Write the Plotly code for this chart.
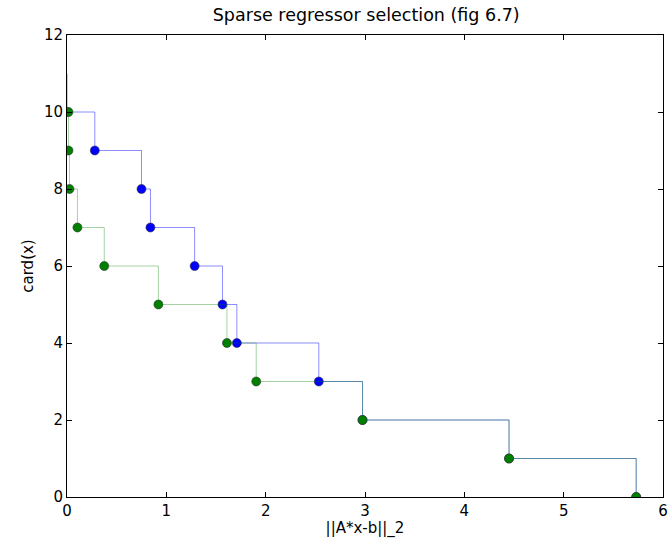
import plotly.graph_objects as go

# l1 heuristic (blue) and global optimum (green)
blue_resid = [0.0, 0.0, 0.28, 0.75, 0.84, 1.285, 1.565, 1.71, 2.535, 2.975, 4.45, 5.73]
blue_card = [11, 10, 9, 8, 7, 6, 5, 4, 3, 2, 1, 0]

green_resid = [0.015, 0.015, 0.025, 0.105, 0.375, 0.92, 1.61, 1.905, 2.975, 4.45, 5.73]
green_card = [10, 9, 8, 7, 6, 5, 4, 3, 2, 1, 0]

x_ticks = [0, 1, 2, 3, 4, 5, 6]
y_ticks = [0, 2, 4, 6, 8, 10, 12]

font = "DejaVu Sans"
edge = dict(color="#333333", width=0.6)

fig = go.Figure()
# blue: line then markers (the first point, card 11, has no marker)
fig.add_trace(go.Scatter(
    x=blue_resid, y=blue_card, mode="lines", line_shape="hv",
    line=dict(color="rgba(0,0,255,0.45)", width=1), showlegend=False,
))
fig.add_trace(go.Scatter(
    x=blue_resid[1:], y=blue_card[1:], mode="markers",
    marker=dict(color="#0000ff", size=9, line=edge), showlegend=False,
))
fig.add_trace(go.Scatter(
    x=green_resid, y=green_card, mode="lines", line_shape="hv",
    line=dict(color="rgba(0,128,0,0.35)", width=1), showlegend=False,
))
fig.add_trace(go.Scatter(
    x=green_resid, y=green_card, mode="markers",
    marker=dict(color="#008000", size=9, line=edge), showlegend=False,
))

axis_common = dict(
    showgrid=False, zeroline=False, showline=True, linecolor="black", linewidth=1,
    mirror="ticks", ticks="inside", ticklen=5, tickcolor="black", tickwidth=1,
    tickfont=dict(family=font, size=15, color="black"), automargin=False,
)
fig.update_xaxes(range=[0, 6], tickvals=x_ticks, ticktext=[str(v) for v in x_ticks],
                 title=dict(text="||A*x-b||_2", font=dict(family=font, size=15, color="black"), standoff=4),
                 **axis_common)
fig.update_yaxes(range=[0, 12], tickvals=y_ticks, ticktext=[str(v) for v in y_ticks],
                 title=dict(text="card(x)", font=dict(family=font, size=15, color="black"), standoff=6),
                 **axis_common)

fig.update_layout(
    width=672, height=538,
    margin=dict(l=67, r=9, t=35, b=41),
    paper_bgcolor="white", plot_bgcolor="white",
    title=dict(text="Sparse regressor selection (fig 6.7)", x=0.545, xanchor="center",
               y=0.972, yanchor="middle", font=dict(family=font, size=17.5, color="black")),
    font=dict(family=font),
)

fig.write_html("out.html")
